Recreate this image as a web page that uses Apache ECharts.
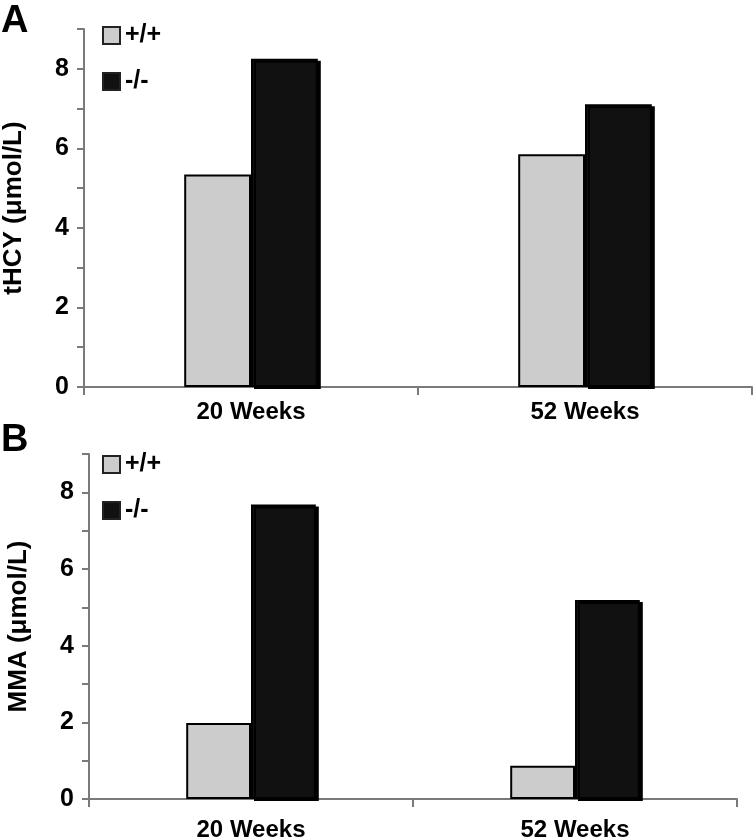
<!DOCTYPE html>
<html>
<head>
<meta charset="utf-8">
<script src="https://cdn.jsdelivr.net/npm/echarts@6/dist/echarts.min.js"></script>
<style>
  html, body { margin: 0; padding: 0; background: #fff; }
  #chart { width: 755px; height: 837px; }
</style>
</head>
<body>
<div id="chart"></div>
<script>
// categories and values
const categories = ['20 Weeks', '52 Weeks'];
const seriesNames = ['+/+', '-/-'];
const hcyWild = [5.34, 5.85];
const hcyKnock = [8.25, 7.11];
const mmaWild = [1.98, 0.87];
const mmaKnock = [7.68, 5.19];
const yMin = 0, yMax = 9, yStep = 1;

const font = 'Arial, "Liberation Sans", sans-serif';
const axisGray = '#7a7a7a';
const lightFill = '#cccccc';
const darkFill = '#111111';

const chart = echarts.init(document.getElementById('chart'));

function yAxis(idx, name) {
  return {
    type: 'value', gridIndex: idx, min: yMin, max: yMax, interval: yStep,
    name: name, nameLocation: 'middle', nameRotate: 90, nameGap: 57,
    nameTextStyle: { fontFamily: font, fontWeight: 'bold', fontSize: 26, color: '#000' },
    axisLine: { show: true, lineStyle: { color: axisGray, width: 2 } },
    axisTick: { show: true, length: 7, lineStyle: { color: axisGray, width: 2 } },
    splitLine: { show: false },
    axisLabel: {
      margin: 15, fontFamily: font, fontWeight: 'bold', fontSize: 25, color: '#000',
      formatter: v => (v % 2 === 0 ? v : '')
    }
  };
}

function xAxis(idx, margin) {
  return {
    type: 'category', gridIndex: idx, data: categories,
    axisLine: { show: true, lineStyle: { color: axisGray, width: 2 } },
    axisTick: { show: true, length: 8, lineStyle: { color: axisGray, width: 2 } },
    axisLabel: { margin: margin, fontFamily: font, fontWeight: 'bold', fontSize: 24, color: '#000' }
  };
}

function bar(idx, name, data, fill) {
  const dark = fill === darkFill;
  return {
    type: 'bar', name: name, xAxisIndex: idx, yAxisIndex: idx, data: data,
    barWidth: '20%', barGap: '0%',
    itemStyle: {
      color: fill, borderColor: '#000', borderWidth: 2,
      shadowColor: dark ? '#000' : 'transparent', shadowOffsetX: dark ? 3 : 0, shadowOffsetY: dark ? 2 : 0
    }
  };
}

function legend(top) {
  return {
    data: seriesNames.map(n => ({ name: n, icon: 'rect' })), orient: 'vertical', left: 97, top: top,
    itemWidth: 17, itemHeight: 17, itemGap: 21,
    itemStyle: { borderColor: '#222', borderWidth: 2 },
    textStyle: { fontFamily: font, fontWeight: 'bold', fontSize: 25, color: '#000' }
  };
}

chart.setOption({
  animation: false,
  title: [
    { text: 'A', left: -4, top: -2, textStyle: { fontFamily: font, fontWeight: 'bold', fontSize: 38, color: '#000' } },
    { text: 'B', left: -4, top: 417, textStyle: { fontFamily: font, fontWeight: 'bold', fontSize: 38, color: '#000' } }
  ],
  legend: [legend(18), legend(447)],
  grid: [
    { left: 84, right: 3, top: 29, height: 358, outerBoundsMode: 'none' },
    { left: 89, right: 18, top: 454, height: 345, outerBoundsMode: 'none' }
  ],
  xAxis: [xAxis(0, 13), xAxis(1, 19)],
  yAxis: [yAxis(0, 'tHCY (\u03bcmol/L)'), yAxis(1, 'MMA (\u03bcmol/L)')],
  series: [
    bar(0, seriesNames[0], hcyWild, lightFill),
    bar(0, seriesNames[1], hcyKnock, darkFill),
    bar(1, seriesNames[0], mmaWild, lightFill),
    bar(1, seriesNames[1], mmaKnock, darkFill)
  ]
});
</script>
</body>
</html>
